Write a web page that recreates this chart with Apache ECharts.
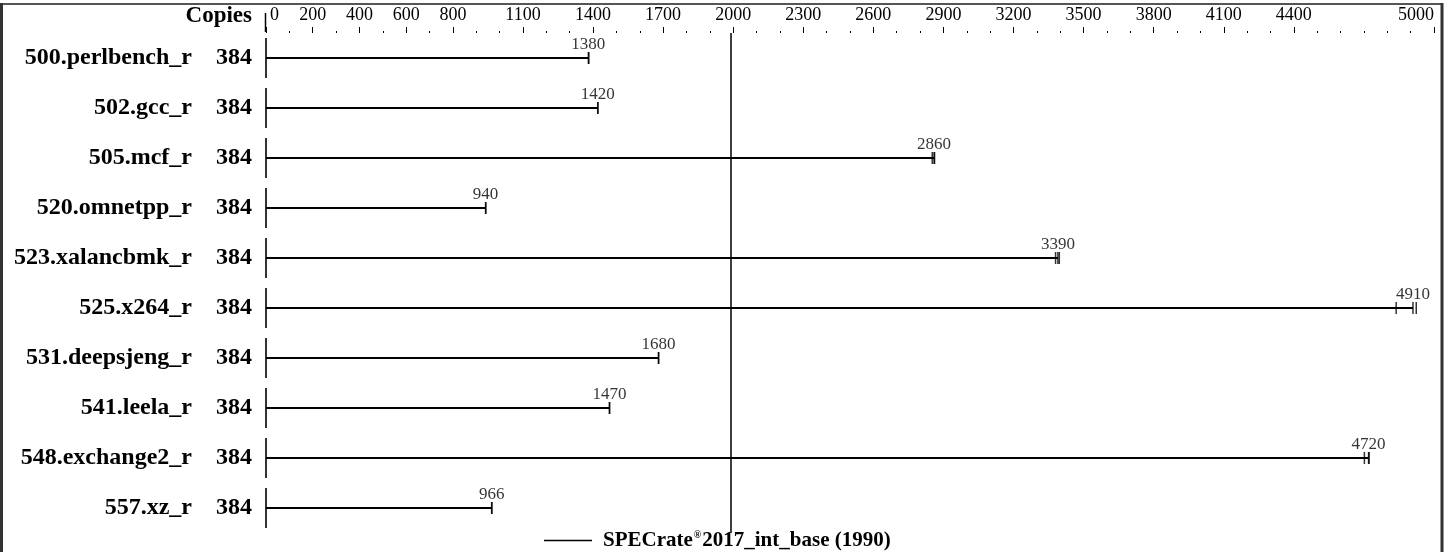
<!DOCTYPE html>
<html><head><meta charset="utf-8">
<script src="https://cdn.jsdelivr.net/npm/echarts@6/dist/echarts.min.js"></script>
<style>html,body{margin:0;padding:0;background:#fff}#c{width:1450px;height:552px}</style>
</head><body><div id="c"></div>
<script>
const benchmarks = ['500.perlbench_r','502.gcc_r','505.mcf_r','520.omnetpp_r','523.xalancbmk_r','525.x264_r','531.deepsjeng_r','541.leela_r','548.exchange2_r','557.xz_r'];
const copies = [384,384,384,384,384,384,384,384,384,384];
const medians = [1380,1420,2860,940,3390,4910,1680,1470,4720,966];
const runs = [[1380,1382],[1420,1421],[2852,2860,2862],[940,941],[3380,3390,3396],[4838,4910,4924],[1680,1681],[1470,1471],[4702,4720,4722],[966,967]];
const tickLabels = [0,200,400,600,800,1100,1400,1700,2000,2300,2600,2900,3200,3500,3800,4100,4400,5000];
const minorTicks = Array.from({length: 51}, (_, i) => i * 100);
const overallScore = 1990;
const metricName = 'SPECrate®2017_int_base (' + overallScore + ')';

const F = 'Liberation Serif';
const chart = echarts.init(document.getElementById('c'), null, {renderer: 'canvas'});

const runPts = [];
runs.forEach((r, i) => r.forEach(v => runPts.push([v, i])));

chart.setOption({
  animation: false,
  backgroundColor: '#fff',
  textStyle: {fontFamily: F, color: '#000'},
  grid: {left: 266, right: 16, top: 33, bottom: 19, containLabel: false},
  xAxis: [{
    type: 'value', position: 'top', min: 0, max: 5000, interval: 100,
    name: 'Copies', nameLocation: 'start', nameGap: 14,
    nameTextStyle: {fontFamily: F, fontWeight: 'bold', fontSize: 23, color: '#000', align: 'right', verticalAlign: 'bottom', padding: [0, 0, 5, 0]},
    axisLine: {show: false},
    splitLine: {show: false},
    axisTick: {show: true, length: 6, customValues: tickLabels, lineStyle: {color: '#000', width: 1}},
    axisLabel: {show: true, customValues: tickLabels, margin: 9, fontFamily: F, fontSize: 18, color: '#000',
      alignMinLabel: 'left', alignMaxLabel: 'right',
      formatter: v => v === 0 ? '{z|0}' : String(v),
      rich: {z: {fontFamily: F, fontSize: 18, color: '#000', padding: [0, 0, 0, 4]}}}
  }, {
    type: 'value', position: 'top', min: 0, max: 5000, interval: 100,
    axisLine: {show: false}, splitLine: {show: false},
    axisTick: {show: true, length: 2, customValues: minorTicks, lineStyle: {color: '#000', width: 1}},
    axisLabel: {show: false}
  }],
  yAxis: {
    type: 'category', inverse: true, data: benchmarks,
    axisLine: {show: false}, axisTick: {show: false}, splitLine: {show: false},
    axisLabel: {
      margin: 14,
      formatter: (v, i) => '{n|' + v + '}{c|' + copies[i] + '}',
      rich: {
        n: {fontFamily: F, fontWeight: 'bold', fontSize: 24, color: '#000'},
        c: {fontFamily: F, fontWeight: 'bold', fontSize: 24, color: '#000', width: 60, align: 'right'}
      }
    }
  },
  legend: {
    left: 539, top: 525, itemWidth: 48, itemHeight: 1.5, icon: 'rect',
    data: [metricName],
    formatter: n => n.replace('®', '{s|®}'),
    textStyle: {fontFamily: F, fontWeight: 'bold', fontSize: 21, color: '#000', padding: [0, 0, 0, 6],
      rich: {s: {fontFamily: F, fontWeight: 'bold', fontSize: 10, color: '#000', verticalAlign: 'top', padding: [0, 1, 8, 1]}}}
  },
  series: [{
    type: 'bar', name: 'bars', data: medians, barWidth: 2, silent: true,
    itemStyle: {color: '#000'}, xAxisIndex: 0
  }, {
    type: 'scatter', name: 'base', data: benchmarks.map((_, i) => [0, i]), symbol: 'rect', symbolSize: [2, 40],
    itemStyle: {color: '#000'}, silent: true
  }, {
    type: 'scatter', name: 'runs', data: runPts, symbol: 'rect', symbolSize: [1.5, 12],
    itemStyle: {color: '#000'}, silent: true
  }, {
    type: 'scatter', name: 'labels', data: medians.map((v, i) => [v, i]), symbolSize: 0, silent: true,
    label: {show: true, position: 'top', distance: 5, formatter: p => String(p.value[0]), fontFamily: F, fontSize: 17, color: '#000'}
  }, {
    type: 'line', name: metricName, data: [], itemStyle: {color: '#000'}, lineStyle: {color: '#000'},
    markLine: {silent: true, symbol: 'none', label: {show: false}, lineStyle: {color: '#000', width: 1.5, type: 'solid'},
      data: [{xAxis: overallScore}]}
  }],
  graphic: [
    {type: 'line', shape: {x1: 265.5, y1: 13, x2: 265.5, y2: 32}, style: {stroke: '#000', lineWidth: 1.5}},
    {type: 'line', shape: {x1: 0, y1: 4, x2: 1443, y2: 4}, style: {stroke: '#555', lineWidth: 2}},
    {type: 'line', shape: {x1: 1.5, y1: 3, x2: 1.5, y2: 552}, style: {stroke: '#333', lineWidth: 3}},
    {type: 'line', shape: {x1: 1442, y1: 3, x2: 1442, y2: 552}, style: {stroke: '#333', lineWidth: 3}}
  ]
});
</script></body></html>
